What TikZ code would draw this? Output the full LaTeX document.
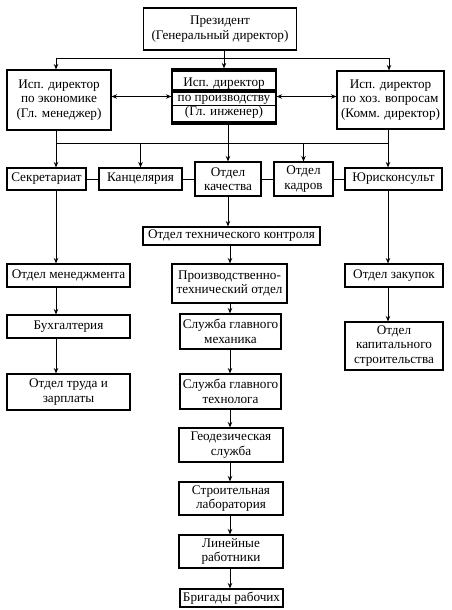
\documentclass[tikz,border=0pt]{standalone}
\usepackage{fontspec}
\setmainfont{Liberation Serif}
\usetikzlibrary{arrows.meta}
\newcommand\boxfont{\fontsize{13.2}{14.5}\selectfont}
\tikzset{
  box/.style={draw, line width=1.1pt, inner sep=0pt, align=center, font=\boxfont},
  arr/.style={-{Stealth[length=5.5pt,width=4.5pt]}, line width=0.9pt},
  darr/.style={{Stealth[length=5.5pt,width=4.5pt]}-{Stealth[length=5.5pt,width=4.5pt]}, line width=0.9pt},
  ln/.style={line width=0.9pt}
}
\begin{document}
\begin{tikzpicture}[x=1pt,y=-1pt]
\useasboundingbox (0,0) rectangle (451,610);
% top level
\node[box, minimum width=153pt, minimum height=42pt] (pres) at (220,29) {Президент\\(Генеральный директор)};
\node[box, minimum width=104pt, minimum height=60pt] (econ) at (59,100) {Исп. директор\\по экономике\\(Гл. менеджер)};
\node[box, minimum width=104pt, minimum height=55pt, line width=1.2pt] (prod) at (224,96.5) {};
\fill (prod.north west) rectangle ([yshift=-4pt]prod.north east);
\fill ([yshift=-21pt]prod.north west) rectangle ([yshift=-24.5pt]prod.north east);
\draw[line width=1.1pt] ([yshift=-37pt]prod.north west) -- ([yshift=-37pt]prod.north east);
\fill (prod.south west) rectangle ([yshift=4pt]prod.south east);
\node[align=center, font=\boxfont, inner sep=0pt] (prodtext) at (224,98.5) {Исп. директор\\по производству\\(Гл. инженер)};
\node[box, minimum width=107pt, minimum height=58pt] (khoz) at (390.5,100) {Исп. директор\\по хоз. вопросам\\(Комм. директор)};
% second row
\node[box, minimum width=79pt, minimum height=22pt] (sekr) at (46.5,179) {Секретариат};
\node[box, minimum width=83pt, minimum height=22pt] (kanc) at (140.5,179) {Канцелярия};
\node[box, minimum width=66pt, minimum height=34pt] (kach) at (228,179) {Отдел\\качества};
\node[box, minimum width=59pt, minimum height=34pt] (kadr) at (303.5,179) {Отдел\\кадров};
\node[box, minimum width=97pt, minimum height=22pt] (jur) at (393.5,179) {Юрисконсульт};
\node[box, minimum width=177pt, minimum height=18pt] (otk) at (231.5,236) {Отдел технического контроля};
% columns
\node[box, minimum width=123pt, minimum height=23pt] (men) at (68.5,275.5) {Отдел менеджмента};
\node[box, minimum width=123pt, minimum height=23pt] (buh) at (68.5,326.5) {Бухгалтерия};
\node[box, minimum width=123pt, minimum height=36pt] (trud) at (68.5,392) {Отдел труда и\\зарплаты};
\node[box, minimum width=115pt, minimum height=39pt] (pto) at (229.5,283.5) {Производственно-\\технический отдел};
\node[box, minimum width=101pt, minimum height=35pt] (meh) at (230.5,331.5) {Служба главного\\механика};
\node[box, minimum width=101pt, minimum height=35pt] (tehn) at (230.5,391.5) {Служба главного\\технолога};
\node[box, minimum width=104pt, minimum height=34pt] (geo) at (231,445) {Геодезическая\\служба};
\node[box, minimum width=104pt, minimum height=33pt] (lab) at (231,498.5) {Строительная\\лаборатория};
\node[box, minimum width=104pt, minimum height=33pt] (lin) at (231,551.5) {Линейные\\работники};
\node[box, minimum width=103pt, minimum height=18pt] (brig) at (231.5,598) {Бригады рабочих};
\node[box, minimum width=98pt, minimum height=23pt] (zak) at (394,275.5) {Отдел закупок};
\node[box, minimum width=98pt, minimum height=48pt] (kap) at (394,346) {Отдел\\капитального\\строительства};
% connectors top
\coordinate (tL) at (56,58);
\coordinate (tR) at (389,58);
\draw[ln] (pres.south -| prod.north) -- (tL -| prod.north);
\draw[ln] (tL) -- (tR);
\draw[arr] (tL) -- (tL |- econ.north);
\draw[arr] (tL -| prod.north) -- (prod.north);
\draw[arr] (tR) -- (tR |- khoz.north);
\draw[darr] (econ.east |- prod.west) -- (prod.west);
\draw[darr] (prod.east) -- (prod.east -| khoz.west);
% second bus
\coordinate (bL) at (56,143);
\coordinate (bR) at (388,143);
\draw[ln] (bL |- econ.south) -- (bL) -- (bR) -- (bR |- khoz.south);
\draw[arr] (kach.north |- prod.south) -- (kach.north);
\draw[arr] (bL) -- (bL |- sekr.north);
\draw[arr] (bL -| kanc.north) -- (kanc.north);
\draw[arr] (bL -| kadr.north) -- (kadr.north);
\draw[arr] (bR) -- (bR |- jur.north);
\draw[ln] (sekr) -- (kanc) -- (kach) -- (kadr) -- (jur);
% left column
\draw[arr] (bL |- sekr.south) -- (bL |- men.north);
\draw[arr] (bL |- men.south) -- (bL |- buh.north);
\draw[arr] (bL |- buh.south) -- (bL |- trud.north);
% center column
\coordinate (cC) at (230,0);
\draw[arr] (kach.south) -- (kach.south |- otk.north);
\draw[arr] (cC |- otk.south) -- (cC |- pto.north);
\draw[arr] (cC |- pto.south) -- (cC |- meh.north);
\draw[arr] (cC |- meh.south) -- (cC |- tehn.north);
\draw[arr] (cC |- tehn.south) -- (cC |- geo.north);
\draw[arr] (cC |- geo.south) -- (cC |- lab.north);
\draw[arr] (cC |- lab.south) -- (cC |- lin.north);
\draw[arr] (cC |- lin.south) -- (cC |- brig.north);
% right column
\draw[arr] (bR |- jur.south) -- (bR |- zak.north);
\draw[arr] (bR |- zak.south) -- (bR |- kap.north);
\end{tikzpicture}
\end{document}
